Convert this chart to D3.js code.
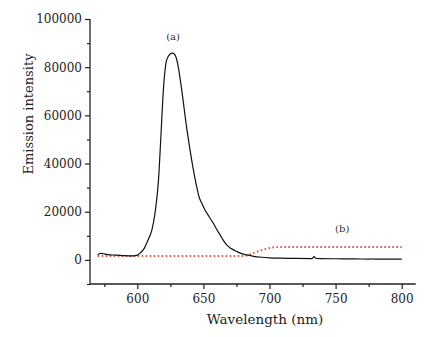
<!DOCTYPE html>
<html><head><meta charset="utf-8">
<script src="https://cdn.jsdelivr.net/npm/d3@7"></script>
<style>body{margin:0;background:#fff;} svg{display:block;}</style>
</head><body>
<script>
// Data
const wlA = [570,572,575,579,584,590,597,600,602,605,607,609,611,613.4,616,617.7,619.7,622.2,624.5,626.7,628.6,630.5,633.6,637.3,641.1,644.9,646.8,648.7,651.2,654.5,657.5,660,662.6,665,667.6,671,675.2,679,682.7,688,694.1,700,707.9,720,731.9,733.2,733.7,735,738.3,750,765,776,777,780,790,800];
const intA = [2100,2700,2500,2100,2000,1800,1700,2000,2800,4600,6900,9400,12400,19500,33000,49800,70500,83000,85300,85800,85000,81500,70500,55000,41500,30400,26000,23600,20700,17800,15200,12700,10400,8200,6200,4700,3500,2600,2100,1500,1100,850,700,600,540,1100,1400,700,540,480,420,330,450,290,300,290];
const wlB = [570,600,650,681,685,690,695,700,705,710,750,800];
const intB = [1600,1600,1600,1600,2300,3300,4200,4900,5300,5400,5400,5400];
const xTicks = [600,650,700,750,800];
const xMinor = [575,625,675,725,775];
const yTicks = [0,20000,40000,60000,80000,100000];
const yMinor = [-10000,10000,30000,50000,70000,90000];
const labels = [{t:"(a)", x:627, y:91300},{t:"(b)", x:755, y:11600}];

const W=428,H=337;
const svg=d3.select("body").append("svg").attr("width",W).attr("height",H);
const x=d3.scaleLinear().domain([564.2,810.6]).range([90,415.7]);
const y=d3.scaleLinear().domain([-10000,100000]).range([284,19]);
const font="DejaVu Serif";
const ink="#222";

// curves
const line=d3.line().x(d=>x(d[0])).y(d=>y(d[1])).curve(d3.curveMonotoneX);
svg.append("path").datum(wlB.map((w,i)=>[w,intB[i]])).attr("d",line)
  .attr("fill","none").attr("stroke","#dd5a48").attr("stroke-width",2)
  .attr("stroke-dasharray","1.6,2.4");
svg.append("path").datum(wlA.map((w,i)=>[w,intA[i]])).attr("d",line)
  .attr("fill","none").attr("stroke","#111").attr("stroke-width",1.2);

// axes
const xa=svg.append("g").attr("transform","translate(0,284)")
  .call(d3.axisBottom(x).tickValues(xTicks).tickSize(5).tickPadding(5).tickFormat(d3.format("d")));
const xm=svg.append("g").attr("transform","translate(0,284)")
  .call(d3.axisBottom(x).tickValues(xMinor).tickSize(3).tickFormat(""));
const ya=svg.append("g").attr("transform","translate(90,0)")
  .call(d3.axisLeft(y).tickValues(yTicks).tickSize(5).tickPadding(3).tickFormat(d3.format("d")));
const ym=svg.append("g").attr("transform","translate(90,0)")
  .call(d3.axisLeft(y).tickValues(yMinor).tickSize(3).tickFormat(""));
[xa,xm,ya,ym].forEach(g=>{
  g.attr("font-family",font).attr("font-size",12);
  g.select(".domain").attr("stroke",ink).attr("stroke-width",1.3);
  g.selectAll("line").attr("stroke",ink).attr("stroke-width",1.2);
  g.selectAll("text").attr("fill",ink);
});
xm.select(".domain").remove(); ym.select(".domain").remove();
xa.select(".domain").attr("d","M90,0H415.7");
ya.select(".domain").attr("d","M0,19V284");

// axis titles
svg.append("text").attr("x",265).attr("y",324).attr("text-anchor","middle")
  .attr("font-family",font).attr("font-size",13.5).attr("fill",ink).text("Wavelength (nm)");
svg.append("text").attr("transform","translate(33,114) rotate(-90)").attr("text-anchor","middle")
  .attr("font-family",font).attr("font-size",13).attr("fill",ink).text("Emission intensity");

// annotations
svg.selectAll("text.ann").data(labels).enter().append("text").attr("class","ann")
  .attr("x",d=>x(d.x)).attr("y",d=>y(d.y)).attr("text-anchor","middle")
  .attr("font-family",font).attr("font-size",10).attr("fill","#333").text(d=>d.t);
</script>
</body></html>
